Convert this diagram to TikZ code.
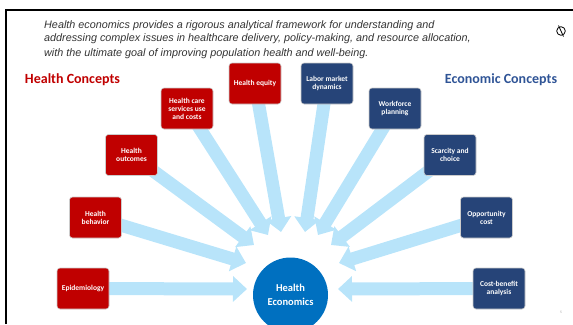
\documentclass[tikz,border=0pt]{standalone}
\usepackage{fontspec}
\setmainfont{Carlito}
\newfontfamily\arialfont{Liberation Sans}
\usetikzlibrary{arrows.meta,backgrounds}
\definecolor{hred}{RGB}{192,0,0}
\definecolor{eblue}{RGB}{38,68,120}
\definecolor{ctrblue}{RGB}{0,112,192}
\definecolor{rayblue}{RGB}{184,228,250}
\definecolor{titleblue}{RGB}{47,84,150}

\begin{document}
\begin{tikzpicture}[x=1pt,y=-1pt,
  concept/.style={draw=white!80!black,line width=0.6pt,rounded corners=3pt,
    minimum width=52pt,minimum height=41pt,align=center,text=white,
    font=\fontsize{7.5}{8}\selectfont\bfseries},
  health/.style={concept,fill=hred},
  econ/.style={concept,fill=eblue},
  ray/.style={rayblue,line width=13pt,-{Triangle[length=14pt,width=25pt]}}]
  \useasboundingbox (0,0) rectangle (573,324);
  \clip (0,0) rectangle (573,324);
  % slide frame
  \draw[line width=2.4pt] (5.8,324) -- (5.8,10.2) -- (573,10.2);
  % last line's baseline sets the position
  \node[anchor=base west,align=left,inner sep=0pt,text=black!80,
    font=\arialfont\itshape\fontsize{10.8}{14}\selectfont] (intro) at (44,56)
    {Health economics provides a rigorous analytical framework for understanding and\\
     addressing complex issues in healthcare delivery, policy-making, and resource allocation,\\
     with the ultimate goal of improving population health and well-being.};
  \draw[line width=0.8pt] (561,31) circle (4.3);
  \draw[line width=0.8pt] (558.5,25.5) -- (563.5,36.5);
  \node[font=\fontsize{3.5}{4}\selectfont,text=black!40] (pgno) at (561,312) {5};

  % column headings
  \node[font=\fontsize{14}{16}\selectfont\bfseries,text=hred] (hhead) at (72.5,80) {Health Concepts};
  \node[font=\fontsize{14}{16}\selectfont\bfseries,text=titleblue] (ehead) at (501,80) {Economic Concepts};

  % centre
  \node[circle,fill=ctrblue,minimum size=75pt,align=center,text=white,
    font=\fontsize{10.5}{14}\selectfont\bfseries] (he) at (290.5,295) {Health\\Economics};

  % health side
  \node[health] (epi)    at (83,288.5)  {Epidemiology};
  \node[health] (behav)  at (95.5,217.5) {Health\\behavior};
  \node[health] (outc)   at (131.5,155) {Health\\outcomes};
  \node[health] (care)   at (187,108.5) {Health care\\services use\\and costs};
  \node[health] (equity) at (255,83.5)  {Health equity};

  % economic side
  \node[econ] (labor) at (327,83.5)  {Labor market\\dynamics};
  \node[econ] (workf) at (395,108.5) {Workforce\\planning};
  \node[econ] (scarc) at (450,155)   {Scarcity and\\choice};
  \node[econ] (oppor) at (486.5,217.5) {Opportunity\\cost};
  \node[econ] (cba)   at (499,288.5) {Cost-benefit\\analysis};

  % arrow tips round the centre
  \coordinate (tEpi)    at (247,289);
  \coordinate (tBehav)  at (246,263);
  \coordinate (tOutc)   at (254,245);
  \coordinate (tCare)   at (268,235);
  \coordinate (tEquity) at (281,232);
  \coordinate (tLabor)  at (305,232);
  \coordinate (tWorkf)  at (318,235);
  \coordinate (tScarc)  at (331,245);
  \coordinate (tOppor)  at (339,263);
  \coordinate (tCba)    at (338,289);

  \begin{scope}[on background layer]
    \foreach \src/\tip in {epi/tEpi,behav/tBehav,outc/tOutc,care/tCare,equity/tEquity,
                           labor/tLabor,workf/tWorkf,scarc/tScarc,oppor/tOppor,cba/tCba}
      \draw[ray] (\src.center) -- (\tip);
  \end{scope}
\end{tikzpicture}
\end{document}
